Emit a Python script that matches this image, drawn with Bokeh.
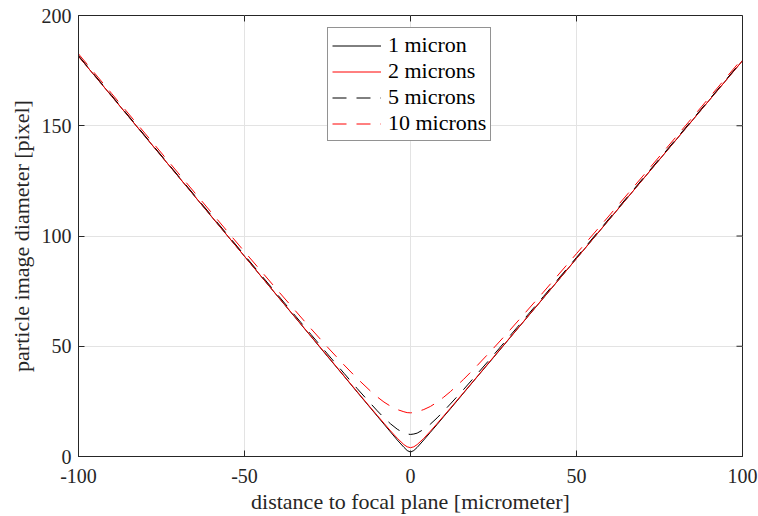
from bokeh.plotting import figure
from bokeh.models import Range1d, FixedTicker, Legend, LegendItem
from bokeh.embed import file_html
from bokeh.resources import INLINE

# distance to focal plane [micrometer]
z = [-100, -90, -80, -70, -60, -50, -40, -30, -25, -20, -16, -12, -10, -8, -6, -4, -2, -1, 0,
     1, 2, 4, 6, 8, 10, 12, 16, 20, 25, 30, 40, 50, 60, 70, 80, 90, 100]

# particle image diameter [pixel]
d_1um = [181.5, 163.4, 145.2, 127.1, 108.9, 90.8, 72.6, 54.5, 45.4, 36.4, 29.1, 21.9, 18.3, 14.7, 11.1, 7.5, 4.2, 2.7, 2.0,
         2.7, 4.1, 7.5, 11.0, 14.5, 18.1, 21.6, 28.8, 36.0, 44.9, 53.9, 71.8, 89.8, 107.7, 125.7, 143.6, 161.6, 179.5]
d_2um = [181.5, 163.4, 145.3, 127.1, 109.0, 90.8, 72.7, 54.6, 45.6, 36.5, 29.3, 22.1, 18.6, 15.1, 11.6, 8.3, 5.4, 4.4, 4.0,
         4.4, 5.4, 8.2, 11.5, 14.9, 18.4, 21.9, 29.0, 36.1, 45.1, 54.0, 71.9, 89.8, 107.8, 125.7, 143.7, 161.6, 179.5]
d_5um = [181.8, 163.7, 145.5, 127.4, 109.4, 91.3, 73.3, 55.4, 46.5, 37.7, 30.7, 24.0, 20.7, 17.6, 14.8, 12.4, 10.6, 10.2, 10.0,
         10.2, 10.6, 12.3, 14.7, 17.5, 20.6, 23.8, 30.4, 37.3, 46.0, 54.8, 72.5, 90.3, 108.2, 126.1, 144.0, 161.9, 179.8]
d_10um = [182.6, 164.6, 146.6, 128.6, 110.7, 92.9, 75.3, 58.0, 49.6, 41.5, 35.3, 29.6, 27.0, 24.7, 22.8, 21.3, 20.3, 19.9, 19.8,
          19.9, 20.3, 21.3, 22.7, 24.6, 26.9, 29.4, 35.0, 41.1, 49.1, 57.4, 74.5, 92.0, 109.5, 127.2, 145.0, 162.8, 180.6]

series_labels = ["1 micron", "2 microns", "5 microns", "10 microns"]
series_colors = ["#000000", "#ff0000", "#000000", "#ff0000"]
series_dash = ["solid", "solid", "14 10", "14 10"]
x_ticks = [-100, -50, 0, 50, 100]
x_tick_labels = ["-100", "-50", "0", "50", "100"]
y_ticks = [0, 50, 100, 150, 200]
X_MIN, X_MAX, Y_MIN, Y_MAX = -100, 100, 0, 200

FONT = "Liberation Serif"
AX = "#262626"

W, H = 758, 516
ML, MR, MT, MB = 78, 16, 15, 58
p = figure(width=W, height=H, output_backend="svg", toolbar_location=None,
           x_range=Range1d(X_MIN, X_MAX), y_range=Range1d(Y_MIN, Y_MAX),
           min_border_left=ML, min_border_right=MR, min_border_top=MT, min_border_bottom=MB)

p.background_fill_color = "white"
p.border_fill_color = "white"
p.outline_line_color = AX

for ax, ticks in ((p.xaxis[0], x_ticks), (p.yaxis[0], y_ticks)):
    ax.ticker = FixedTicker(ticks=ticks)
    ax.axis_line_color = AX
    ax.major_tick_line_color = AX
    ax.major_tick_in = 6
    ax.major_tick_out = 0
    ax.minor_tick_line_color = None
    ax.major_label_text_font = FONT
    ax.major_label_text_font_size = "20px"
    ax.major_label_text_color = AX
    ax.axis_label_text_font = FONT
    ax.axis_label_text_font_size = "22px"
    ax.axis_label_text_font_style = "normal"
    ax.axis_label_text_color = AX
    ax.major_label_text_line_height = 1.0
    ax.axis_label_text_line_height = 1.0

p.xaxis[0].major_label_overrides = {t: s for t, s in zip(x_ticks, x_tick_labels)}
p.xaxis[0].axis_label = "distance to focal plane [micrometer]"
p.yaxis[0].axis_label = "particle image diameter [pixel]"
p.xaxis[0].major_label_standoff = 12
p.xaxis[0].axis_label_standoff = 3
p.yaxis[0].major_label_standoff = 7
p.yaxis[0].axis_label_standoff = 5

# inward ticks on the top and right frame edges (box on)
frame_w = W - ML - MR
frame_h = H - MT - MB
tick_px = 6
dy = tick_px * (Y_MAX - Y_MIN) / frame_h
dx = tick_px * (X_MAX - X_MIN) / frame_w
p.segment(x0=x_ticks, y0=[Y_MAX] * len(x_ticks), x1=x_ticks, y1=[Y_MAX - dy] * len(x_ticks),
          line_color=AX, line_width=1)
p.segment(x0=[X_MAX] * len(y_ticks), y0=y_ticks, x1=[X_MAX - dx] * len(y_ticks), y1=y_ticks,
          line_color=AX, line_width=1)

p.xgrid.ticker = FixedTicker(ticks=x_ticks)
p.ygrid.ticker = FixedTicker(ticks=y_ticks)
p.grid.grid_line_color = "#e3e3e3"
p.grid.grid_line_width = 1

items = []
for ys, lab, col, dash in zip([d_1um, d_2um, d_5um, d_10um], series_labels, series_colors, series_dash):
    r = p.line(z, ys, line_color=col, line_width=1.0, line_dash=dash)
    items.append(LegendItem(label=lab, renderers=[r]))

legend = Legend(items=items, location=(249, 315), padding=4, spacing=0,
                label_text_font=FONT, label_text_font_size="22px", label_text_color="#000000",
                glyph_width=49, glyph_height=25, label_height=25, label_standoff=7,
                border_line_color=AX, border_line_width=1, background_fill_alpha=1.0,
                margin=0)
p.add_layout(legend, "center")

open("out.html", "w").write(file_html(p, INLINE))
